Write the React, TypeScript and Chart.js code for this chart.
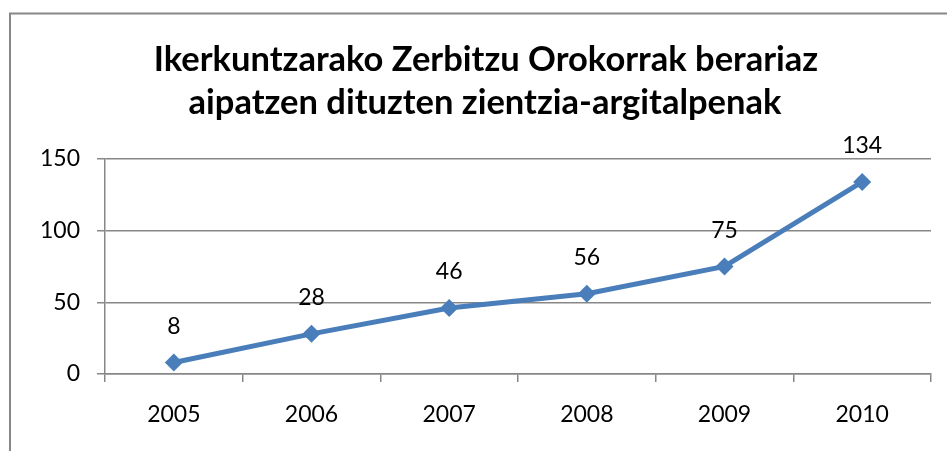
import React, { useEffect, useRef } from "react";
import { Chart, registerables } from "chart.js";

Chart.register(...registerables);

const titleLines = ["Ikerkuntzarako Zerbitzu Orokorrak berariaz", "aipatzen dituzten zientzia-argitalpenak"];
const years = ["2005", "2006", "2007", "2008", "2009", "2010"];
const values = [8, 28, 46, 56, 75, 134];
const yTicks = [0, 50, 100, 150];

const FONT = "Lato, 'Open Sans', sans-serif";

const decorPlugin = {
  id: "decor",
  beforeDraw(chart: any) {
    const ctx = chart.ctx;
    ctx.save();
    ctx.strokeStyle = "#878787";
    ctx.lineWidth = 2;
    ctx.beginPath();
    ctx.moveTo(10, 470);
    ctx.lineTo(10, 13.5);
    ctx.lineTo(960, 13.5);
    ctx.stroke();
    ctx.fillStyle = "#000";
    ctx.textAlign = "center";
    ctx.textBaseline = "alphabetic";
    ctx.font = `bold 34.5px ${FONT}`;
    ctx.fillText(titleLines[0], 486, 71);
    ctx.fillText(titleLines[1], 485, 114);
    ctx.restore();
  },
  afterDatasetsDraw(chart: any) {
    const ctx = chart.ctx;
    const meta = chart.getDatasetMeta(0);
    ctx.save();
    ctx.fillStyle = "#000";
    ctx.textAlign = "center";
    ctx.textBaseline = "middle";
    ctx.font = `23px ${FONT}`;
    meta.data.forEach((pt: any, i: number) => {
      ctx.fillText(String(values[i]), pt.x, pt.y - 36);
    });
    ctx.restore();
  },
};

export default function App() {
  const ref = useRef<HTMLCanvasElement>(null);
  useEffect(() => {
    const chart = new Chart(ref.current!, {
      type: "line",
      data: {
        labels: years,
        datasets: [
          {
            data: values,
            borderColor: "#4A7EBB",
            backgroundColor: "#4A7EBB",
            borderWidth: 5,
            pointStyle: "rectRot",
            pointRadius: 9,
            pointHoverRadius: 9,
            pointBackgroundColor: "#4A7EBB",
            pointBorderColor: "#4A7EBB",
            pointBorderWidth: 0,
            tension: 0,
          },
        ],
      },
      options: {
        animation: false,
        responsive: false,
        maintainAspectRatio: false,
        layout: { padding: { left: 0, right: 16, top: 159, bottom: 0 } },
        plugins: {
          legend: { display: false },
          title: { display: false },
          tooltip: { enabled: false },
        },
        scales: {
          x: {
            offset: true,
            afterFit: (s: any) => {
              s.height = 77;
            },
            grid: {
              offset: true,
              drawOnChartArea: false,
              drawTicks: true,
              tickLength: 8,
              color: "#878787",
              lineWidth: 1.5,
            },
            border: { display: true, color: "#878787", width: 1.5 },
            ticks: {
              color: "#000",
              font: { family: FONT, size: 23 },
              padding: 19,
              maxRotation: 0,
            },
          },
          y: {
            min: 0,
            max: 150,
            afterFit: (s: any) => {
              s.width = 105;
            },
            afterBuildTicks: (s: any) => {
              s.ticks = yTicks.map((v) => ({ value: v }));
            },
            grid: {
              color: "#878787",
              lineWidth: 1.5,
              tickLength: 8,
            },
            border: { display: true, color: "#878787", width: 1.5 },
            ticks: {
              color: "#000",
              font: { family: FONT, size: 23 },
              padding: 17,
            },
          },
        },
      },
      plugins: [decorPlugin],
    });
    return () => chart.destroy();
  }, []);
  return (
    <div style={{ position: "fixed", left: 0, top: 0, width: 947, height: 451, background: "#fff" }}>
      <canvas ref={ref} width={947} height={451} style={{ display: "block" }} />
    </div>
  );
}
